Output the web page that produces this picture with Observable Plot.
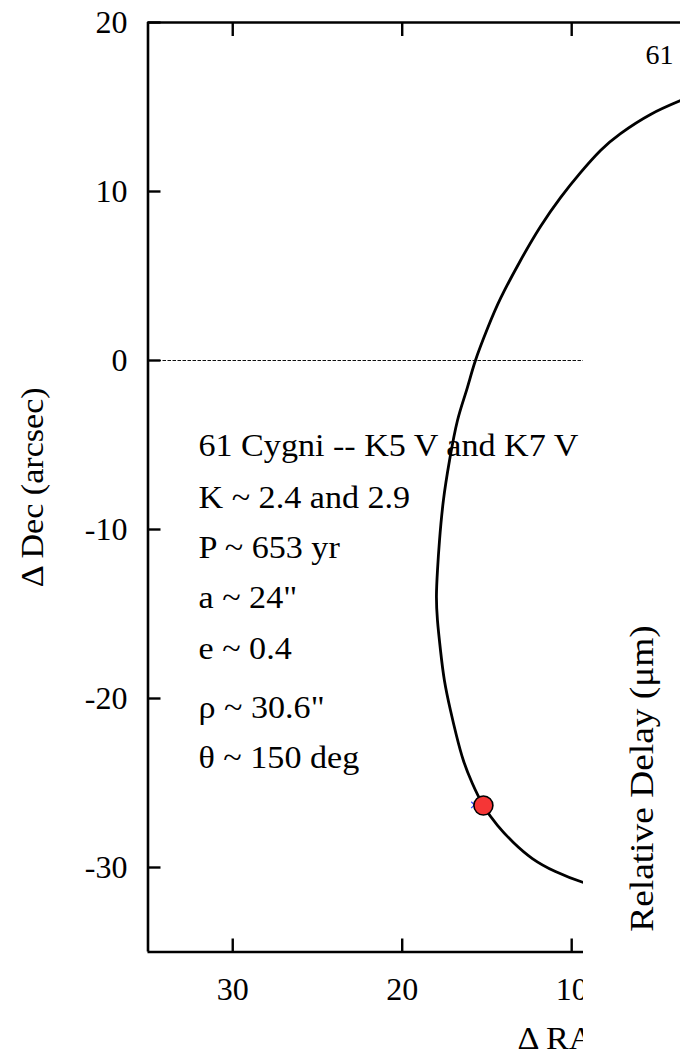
<!DOCTYPE html>
<html>
<head>
<meta charset="utf-8">
<script src="https://cdn.jsdelivr.net/npm/d3@7"></script>
<script src="https://cdn.jsdelivr.net/npm/@observablehq/plot@0.6"></script>
<style>
  html, body { margin: 0; padding: 0; background: white; }
  #chart svg { display: block; }
</style>
</head>
<body>
<div id="chart"></div>
<script>
// ---- data ----
const xTicks = [30, 20, 10];
const yTicks = [20, 10, 0, -10, -20, -30];
const xDomain = [35, 3.58];
const yDomain = [-35, 20];

// relative orbit (Delta RA, Delta Dec in arcsec)
const orbitRA  = [3.58, 5.35, 7.12, 8.30, 9.48, 10.66, 11.84, 13.02, 14.20, 14.97, 15.68, 16.21, 16.74, 17.21, 17.57, 17.80, 17.92, 17.98,
                  17.92, 17.74, 17.51, 17.15, 16.80, 16.39, 15.86, 15.21, 14.38, 13.44, 12.32, 10.96, 9.31, 7.12];
const orbitDec = [15.38, 14.56, 13.43, 12.43, 11.12, 9.64, 7.93, 5.92, 3.67, 1.89, 0, -1.78, -3.55, -5.92, -8.28, -10.65, -12.43, -13.91,
                  -15.38, -17.16, -18.93, -20.71, -22.19, -23.67, -25.03, -26.33, -27.51, -28.52, -29.47, -30.24, -30.89, -31.54];

const currentRA = [15.21];
const currentDec = [-26.33];
const obsRA = [15.74];
const obsDec = [-26.3];

const infoLines = ["61 Cygni -- K5 V and K7 V", "K ~ 2.4 and 2.9", "P ~ 653 yr", "a ~ 24\"", "e ~ 0.4", "ρ ~ 30.6\"", "θ ~ 150 deg"];
const infoDec = [-5.68, -8.70, -11.66, -14.67, -17.69, -21.18, -24.14];
const infoRA = 32.02;

const xLabel = "Δ RA (arcsec)";
const yLabel = "Δ Dec (arcsec)";
const rightTitle = "61 Cygni";
const rightYLabel = "Relative Delay (μm)";

// ---- tables ----
const orbit = orbitRA.map((ra, i) => ({ra, dec: orbitDec[i]}));
const current = currentRA.map((ra, i) => ({ra, dec: currentDec[i]}));
const obs = obsRA.map((ra, i) => ({ra, dec: obsDec[i]}));
const info = infoLines.map((t, i) => ({t, ra: infoRA, dec: infoDec[i]}));

const W = 680, H = 1056;
const panelCut = 583; // where the neighbouring panel begins
const font = "'Liberation Serif', 'Times New Roman', serif";
const fmt = d => String(d);

// neighbouring panel (white) drawn over the right part
const coverPanel = (index, scales, values, dims) => {
  const r = d3.create("svg:rect")
    .attr("x", panelCut).attr("y", 200)
    .attr("width", dims.width - panelCut).attr("height", dims.height - 200)
    .attr("fill", "white");
  return r.node();
};

const chart = Plot.plot({
  width: W,
  height: H,
  marginLeft: 147.5,
  marginRight: 0,
  marginTop: 22,
  marginBottom: 104.5,
  style: {fontFamily: font, fontSize: "32px", background: "white", color: "black", overflow: "hidden"},
  x: {domain: xDomain, label: null},
  y: {domain: yDomain, label: null},
  marks: [
    Plot.ruleY([0], {stroke: "#111", strokeWidth: 1, strokeDasharray: "3.5,1.5"}),
    Plot.line(orbit, {x: "ra", y: "dec", curve: "natural", stroke: "black", strokeWidth: 2.8}),
    Plot.dot(obs, {x: "ra", y: "dec", symbol: "times", r: 3, stroke: "#3344ff", strokeWidth: 1.2}),
    Plot.dot(current, {x: "ra", y: "dec", r: 9.5, fill: "#f53636", stroke: "black", strokeWidth: 1.6}),
    Plot.text(info, {x: "ra", y: "dec", text: "t", textAnchor: "start", lineAnchor: "bottom", fontSize: 31, fill: "black"}),
    // frame (left, top, bottom)
    Plot.ruleX([xDomain[0]], {stroke: "black", strokeWidth: 2.6}),
    Plot.ruleY([yDomain[1]], {stroke: "black", strokeWidth: 2.6}),
    Plot.ruleY([yDomain[0]], {stroke: "black", strokeWidth: 2.6}),
    // axes with inward ticks
    Plot.axisX({anchor: "bottom", ticks: xTicks, tickFormat: fmt, tickSize: -13, tickPadding: 38, strokeWidth: 2.4, fontSize: 32, label: null}),
    Plot.axisX({anchor: "top", ticks: xTicks, tickSize: -13, tickFormat: () => "", strokeWidth: 2.4, label: null}),
    Plot.axisY({anchor: "left", ticks: yTicks, tickFormat: fmt, tickSize: -13, tickPadding: 33.5, strokeWidth: 2.4, fontSize: 32, label: null}),
    Plot.text([yLabel], {frameAnchor: "left", dx: -105.5, rotate: -90, textAnchor: "middle", lineAnchor: "bottom", fontSize: 31}),
    Plot.text([xLabel], {frameAnchor: "bottom", dx: 517 - 413.75, dy: 96.5, textAnchor: "start", lineAnchor: "bottom", fontSize: 31}),
    coverPanel,
    Plot.text([rightTitle], {frameAnchor: "top-right", dx: -(680 - 645), dy: 63 - 22, textAnchor: "start", lineAnchor: "bottom", fontSize: 28}),
    Plot.text([rightYLabel], {frameAnchor: "top-right", dx: -(680 - 652), dy: 778 - 22, rotate: -90, textAnchor: "middle", lineAnchor: "bottom", fontSize: 34})
  ]
});

// the original lettering is slightly wider than Liberation Serif: stretch it along the text direction
d3.select(chart).selectAll("g[aria-label='text'] text").each(function() {
  if (this.textContent === rightTitle) return;
  const tr = this.getAttribute("transform");
  if (tr) {
    this.setAttribute("transform", tr + " scale(1.1,1)");
  } else {
    const x = +this.getAttribute("x") || 0, y = +this.getAttribute("y") || 0;
    this.setAttribute("transform", `translate(${x},${y}) scale(1.1,1) translate(${-x},${-y})`);
  }
});

document.getElementById("chart").appendChild(chart);
</script>
</body>
</html>
